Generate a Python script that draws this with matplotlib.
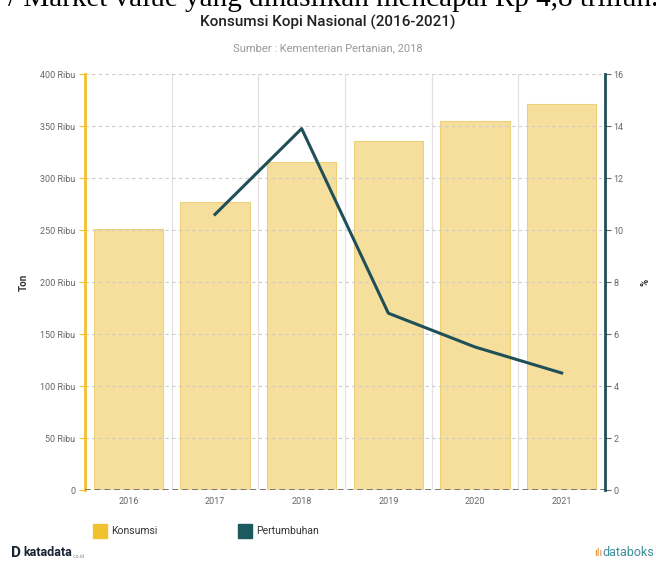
import matplotlib
matplotlib.use("Agg")
import matplotlib.pyplot as plt
from matplotlib.patches import Rectangle
import numpy as np

# data
tahun = ["2016", "2017", "2018", "2019", "2020", "2021"]
konsumsi = [250.9, 277.0, 315.7, 335.6, 354.8, 370.9]   # ribu ton
tahun_tumbuh = ["2017", "2018", "2019", "2020", "2021"]
pertumbuhan = [10.6, 13.9, 6.8, 5.5, 4.5]               # %
yticks_kiri = [0, 50, 100, 150, 200, 250, 300, 350, 400]
ylabels_kiri = ["0"] + [f"{v} Ribu" for v in yticks_kiri[1:]]
yticks_kanan = [0, 2, 4, 6, 8, 10, 12, 14, 16]

plt.rcParams["font.family"] = ["Roboto", "DejaVu Sans"]

kuning = "#f2c12e"
bar_kuning = "#f6df9c"
teal = "#1f4f57"
abu = "#666666"

fig = plt.figure(figsize=(6.56, 5.67), dpi=100)
ax = fig.add_axes([85/656, 77/567, 520/656, 416/567])

x = np.arange(len(tahun))
ax.bar(x, konsumsi, width=0.8, color=bar_kuning, edgecolor="#ecd07a",
       linewidth=0.8, zorder=1)

ax.set_xlim(-0.5, 5.5)
ax.set_ylim(0, 400)
ax.set_yticks(yticks_kiri)
ax.set_yticklabels(ylabels_kiri)
ax.set_xticks(x)
ax.set_xticklabels(tahun)
ax.tick_params(axis="y", length=4, color=kuning, labelsize=6.5, labelcolor=abu, pad=3)
ax.tick_params(axis="x", length=0, labelsize=6.5, labelcolor=abu, pad=5)

# grid
for v in yticks_kiri[1:]:
    ax.axhline(v, color="#cccccc", linestyle=(0, (3, 3)), linewidth=0.8, zorder=2)
ax.axhline(0, color="#777777", linestyle=(0, (3, 2)), linewidth=1.4, zorder=3)
for b in np.arange(0.5, 5.5, 1):
    ax.axvline(b, color="#e2e2e2", linewidth=0.9, zorder=0)

for s in ["top", "right", "bottom"]:
    ax.spines[s].set_visible(False)
ax.spines["left"].set_color(kuning)
ax.spines["left"].set_linewidth(2)

ax.set_ylabel("Ton", fontsize=7, fontweight="bold", color="#333333", labelpad=8)

ax2 = ax.twinx()
xt = [tahun.index(t) for t in tahun_tumbuh]
ax2.plot(xt, pertumbuhan, color=teal, linewidth=2.2, zorder=5)
ax2.set_ylim(0, 16)
ax2.set_yticks(yticks_kanan)
ax2.tick_params(axis="y", length=4, color=abu, labelsize=6.5, labelcolor=abu, pad=2)
for s in ["top", "left", "bottom"]:
    ax2.spines[s].set_visible(False)
ax2.spines["right"].set_color(teal)
ax2.spines["right"].set_linewidth(2)
ax2.set_ylabel("%", fontsize=7, fontweight="bold", color="#333333", labelpad=12)

# teks atas (terpotong seperti aslinya)
fig.text(8/656, 1 - 6/567, "/ Market value yang dihasilkan mencapai Rp 4,8 triliun.",
         fontsize=21, family="Liberation Serif", color="black", va="baseline")
fig.text(328/656, 1 - 27/567, "Konsumsi Kopi Nasional (2016-2021)", fontsize=11,
         fontweight="medium", color="#222222", ha="center", va="baseline")
fig.text(328/656, 1 - 51/567, "Sumber : Kementerian Pertanian, 2018", fontsize=8,
         color="#999999", ha="center", va="baseline")

# legenda
fig.patches.append(Rectangle((93/656, 1 - 538/567), 14/656, 14/567,
                             transform=fig.transFigure, color=kuning))
fig.text(111/656, 1 - 531/567, "Konsumsi", fontsize=7.5, color="#333333", va="center")
fig.patches.append(Rectangle((238/656, 1 - 538/567), 14/656, 14/567,
                             transform=fig.transFigure, color="#1b5b5f"))
fig.text(256/656, 1 - 531/567, "Pertumbuhan", fontsize=7.5, color="#333333", va="center")

# footer
fig.text(11/656, 1 - 553/567, "D", fontsize=11, fontweight="bold", color="#1a2433", va="center")
fig.text(23/656, 1 - 553/567, "katadata", fontsize=9, fontweight="bold", color="#1a2433", va="center")
fig.text(73/656, 1 - 556/567, ".co.id", fontsize=3.5, color="#888888", va="center")
fig.text(654/656, 1 - 553/567, "databoks", fontsize=9, color="#3a8f9a", ha="right", va="center")
fig.text(602/656, 1 - 553/567, "ılı", fontsize=8, color="#e8862a", ha="right", va="center")

fig.savefig("out.png", dpi=100)
